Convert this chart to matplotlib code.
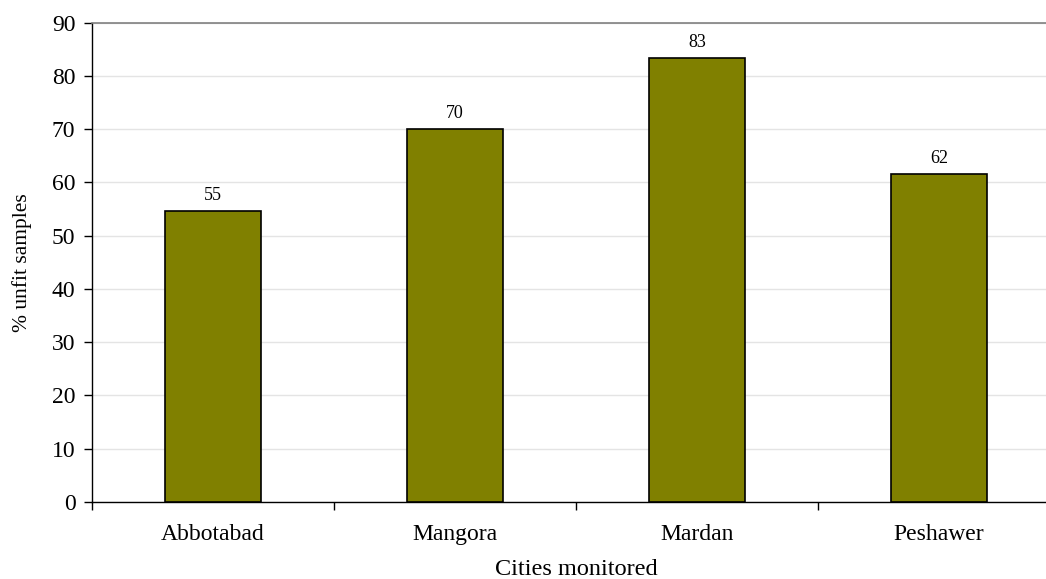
import numpy as np
import matplotlib.pyplot as plt
from matplotlib.ticker import MultipleLocator, FixedLocator

cities = ['Abbotabad', 'Mangora', 'Mardan', 'Peshawer']
unfit_pct = [54.6, 70.0, 83.3, 61.6]
labels = ['55', '70', '83', '62']

plt.rcParams['font.family'] = ['Liberation Serif', 'DejaVu Serif']

fig = plt.figure(figsize=(10.46, 5.79), dpi=100)
ax = fig.add_axes([0.088, 0.133, 0.9254, 0.8281])

x = np.arange(len(cities))
bars = ax.bar(x, unfit_pct, width=0.4, color='#808000', edgecolor='black', linewidth=1.2, zorder=3)
for b, lab in zip(bars, labels):
    ax.annotate(lab, (b.get_x() + b.get_width() / 2, b.get_height()),
                xytext=(0, 5), textcoords='offset points',
                ha='center', va='bottom', fontsize=13)

ax.set_xlim(-0.5, len(cities) - 0.5)
ax.set_ylim(0, 90)
ax.yaxis.set_major_locator(MultipleLocator(10))
ax.grid(axis='y', color='#e4e4e4', linewidth=1, zorder=0)

ax.set_xticks(x)
ax.set_xticklabels(cities, fontsize=17)
ax.xaxis.set_minor_locator(FixedLocator(np.arange(-0.5, len(cities), 1.0)))
ax.tick_params(axis='x', which='major', length=0, pad=16)
ax.tick_params(axis='x', which='minor', length=6, width=1, direction='out')
ax.tick_params(axis='y', labelsize=17, length=6, width=1, pad=6)

for s in ['left', 'bottom']:
    ax.spines[s].set_color('black')
    ax.spines[s].set_linewidth(1)
ax.spines['right'].set_visible(False)
ax.spines['top'].set_color('#808080')
ax.spines['top'].set_linewidth(1.2)

ax.set_xlabel('Cities monitored', fontsize=17.5, labelpad=10)
ax.set_ylabel('% unfit samples', fontsize=15.5, labelpad=14)

fig.savefig('out.png', dpi=100)
